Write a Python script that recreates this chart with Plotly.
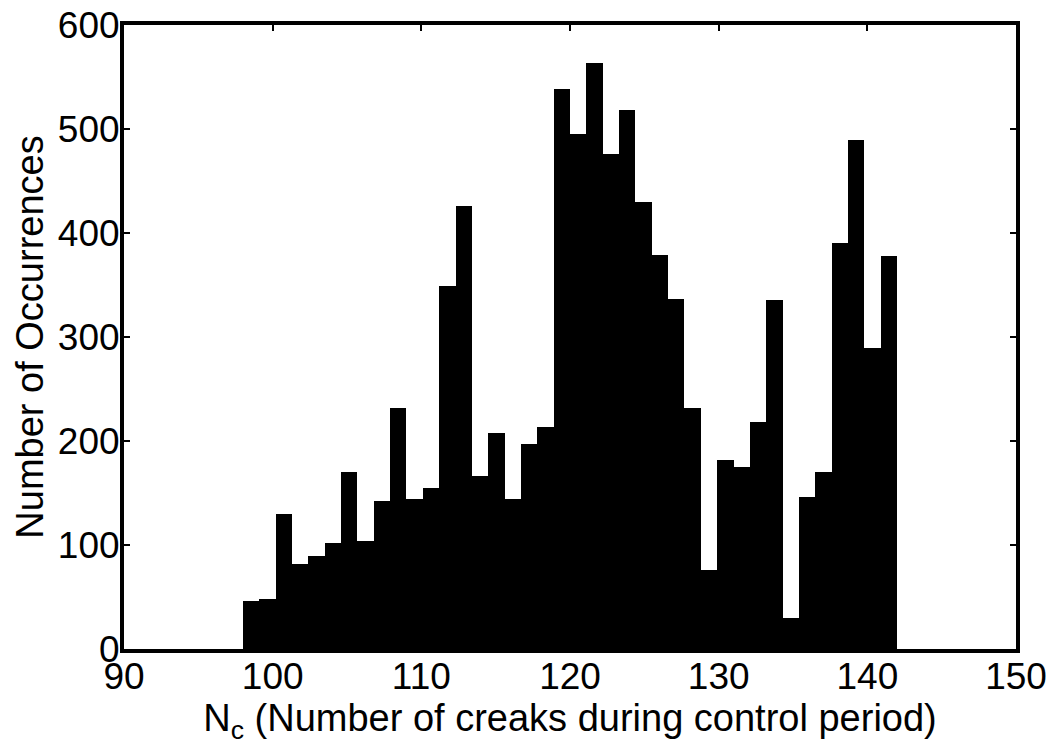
import plotly.graph_objects as go

# Histogram: 40 bins spanning 98 to 142
bin_start = 98.0
bin_end = 142.0
counts = [46, 48, 130, 82, 89, 102, 170, 104, 142, 232,
          144, 155, 349, 426, 166, 208, 144, 197, 213, 538,
          495, 563, 476, 518, 430, 379, 337, 232, 76, 182,
          175, 218, 336, 30, 146, 170, 390, 489, 289, 378]
x_ticks = [90, 100, 110, 120, 130, 140, 150]
y_ticks = [0, 100, 200, 300, 400, 500, 600]

n = len(counts)
w = (bin_end - bin_start) / n
centers = [bin_start + w * (i + 0.5) for i in range(n)]

FONT = "Liberation Sans, Arial, Helvetica, sans-serif"

fig = go.Figure(go.Bar(
    x=centers, y=counts, width=[w] * n,
    marker=dict(color="black", line=dict(width=0)),
    hoverinfo="x+y",
))

axis_common = dict(
    showline=True, linecolor="black", linewidth=4, mirror="ticks",
    ticks="inside", ticklen=6, tickwidth=2, tickcolor="black",
    showgrid=False, zeroline=False, automargin=False,
    tickfont=dict(family=FONT, size=37, color="black"),
)

fig.update_layout(
    width=1057, height=750,
    paper_bgcolor="white", plot_bgcolor="white",
    margin=dict(l=124, r=41, t=25, b=101, autoexpand=False),
    bargap=0,
    showlegend=False,
    font=dict(family=FONT, color="black"),
    xaxis=dict(range=[90, 150], tickvals=x_ticks, ticklabelstandoff=-8,
               title=dict(text="N<sub>c</sub> (Number of creaks during control period)",
                          font=dict(family=FONT, size=38, color="black"), standoff=0),
               **axis_common),
    yaxis=dict(range=[0, 600], tickvals=y_ticks, ticklabelstandoff=-7,
               title=dict(text="Number of Occurrences",
                          font=dict(family=FONT, size=38, color="black"), standoff=4),
               **axis_common),
)

fig.write_html("out.html", config={"displayModeBar": False},
               post_script="document.body.style.margin='0px';document.body.style.overflow='hidden';")
